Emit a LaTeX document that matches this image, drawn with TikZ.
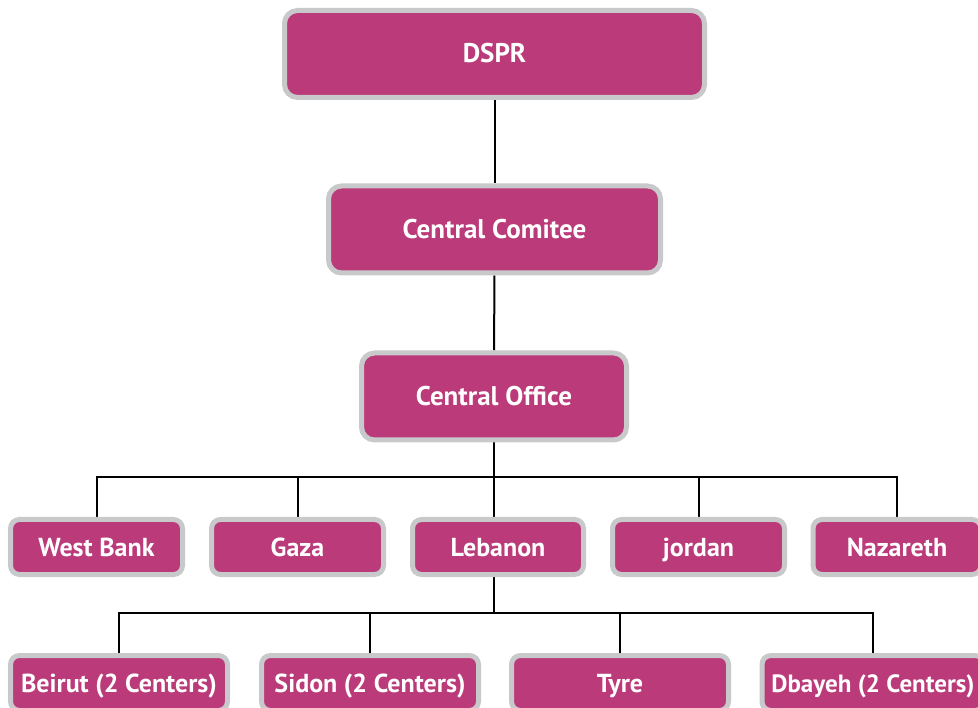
\documentclass[tikz,border=0pt]{standalone}
\usepackage{fontspec}
\setmainfont{PT Sans}
\usetikzlibrary{backgrounds}
\definecolor{boxfill}{HTML}{BB3A7A}
\definecolor{boxrim}{HTML}{C8C9CB}
\tikzset{
  unit/.style={draw=boxrim, fill=boxfill, line width=5pt, text=white,
    inner sep=0pt, text height=19pt, text depth=1pt},
  bigunit/.style={unit, font=\bfseries\fontsize{27}{31}\selectfont,
    rounded corners=13pt, minimum height=87pt},
  smallunit/.style={unit, font=\bfseries\fontsize{26}{30}\selectfont,
    rounded corners=9pt, minimum height=55pt},
  link/.style={line width=2pt}
}
\begin{document}
\begin{tikzpicture}[x=1pt,y=-1pt]
            \useasboundingbox (0,0) rectangle (978,708);
            \node[bigunit, minimum width=420pt] (dspr) at (494.5,54) {DSPR};
            \node[bigunit, minimum width=332pt] (comitee) at (494.5,229.5) {Central Comitee};
            \node[bigunit, minimum width=265pt] (office) at (494,396.5) {Central Office};

            \node[smallunit, minimum width=172pt] (westbank) at (96.5,547) {West Bank};
            \node[smallunit, minimum width=172pt] (gaza) at (297.5,547) {Gaza};
            \node[smallunit, minimum width=171pt] (lebanon) at (498,547) {Lebanon};
            \node[smallunit, minimum width=172pt] (jordan) at (698.5,547) {jordan};
            \node[smallunit, minimum width=168pt] (nazareth) at (897,547) {Nazareth};

            \node[smallunit, minimum width=217pt] (beirut) at (119,683) {Beirut (2 Centers)};
            \node[smallunit, minimum width=217pt] (sidon) at (370,683) {Sidon (2 Centers)};
            \node[smallunit, minimum width=217pt] (tyre) at (620,683) {Tyre};
            \node[smallunit, minimum width=222pt, font=\bfseries\fontsize{25}{29}\selectfont] (dbayeh) at (873,683) {Dbayeh (2 Centers)};

            \coordinate (bus) at (494,477);
            \coordinate (subbus) at (494,613);

            \begin{pgfonlayer}{background}
            \draw[link] (dspr) -- (comitee); \draw[link] (comitee) -- (office);
            \draw[link] (office) -- (bus);
            \draw[link] (bus) -| (westbank); \draw[link] (bus) -| (gaza); \draw[link] (bus) -- (bus |- lebanon.north);
            \draw[link] (bus) -| (jordan); \draw[link] (bus) -| (nazareth);
            \draw[link] (subbus |- lebanon.south) -- (subbus);
            \draw[link] (subbus) -| (beirut); \draw[link] (subbus) -| (sidon);
            \draw[link] (subbus) -| (tyre); \draw[link] (subbus) -| (dbayeh);
            \end{pgfonlayer}
        \end{tikzpicture}
\end{document}
